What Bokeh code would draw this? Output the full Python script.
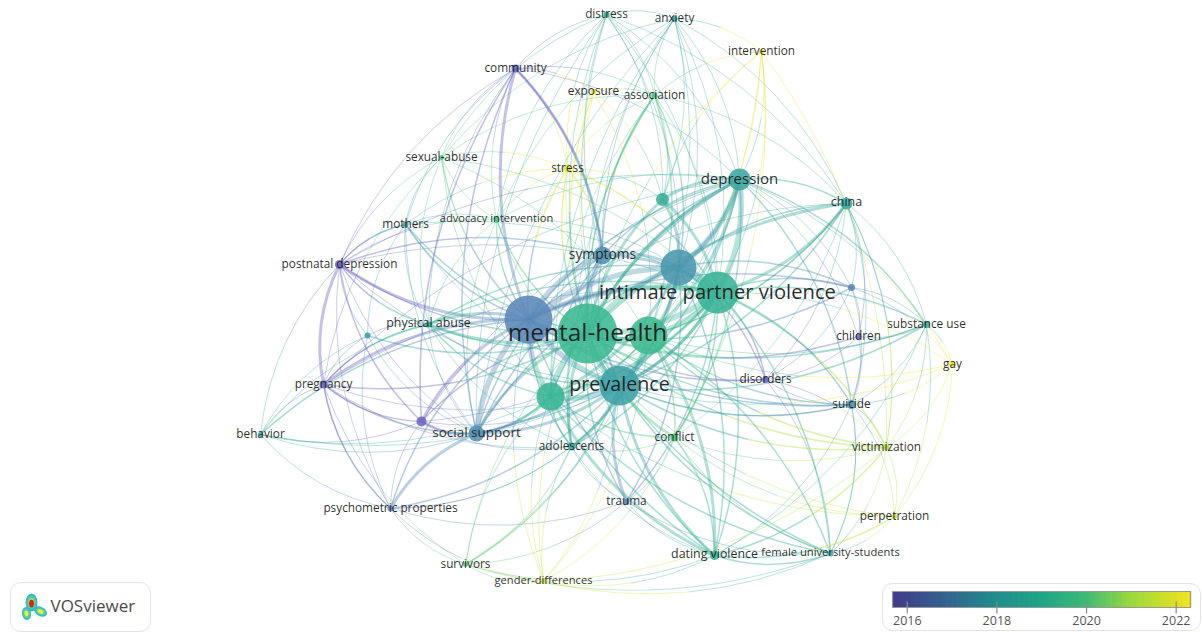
import numpy as np
from bokeh.plotting import figure
from bokeh.models import Range1d, ColumnDataSource
from bokeh.core.properties import value
from bokeh.embed import file_html
from bokeh.resources import INLINE

# ---- network data (map coordinates, occurrence size, average publication year)
keys = ["mh","wom","ipv","dv","hlth","prev","risk","sym","dep","h1","china","soc","dis","anx","intv","assoc",
        "comm","expo","sex","stress","adv","moth","pnd","h2","phys","h3","subst","child","gay","preg","disord",
        "sui","h4","beh","adol","conf","vict","psy","trauma","perp","dating","fem","surv","gend"]
labels = ["mental-health","","intimate partner violence","","","prevalence","","symptoms","depression","","china",
          "social support","distress","anxiety","intervention","association","community","exposure","sexual-abuse",
          "stress","advocacy intervention","mothers","postnatal depression","","physical abuse","","substance use",
          "children","gay","pregnancy","disorders","suicide","","behavior","adolescents","conflict","victimization",
          "psychometric properties","trauma","perpetration","dating violence","female university-students",
          "survivors","gender-differences"]
node_x = [587,528,717,678,648,619,550,602,739,662,846,476,606,674,761,654,515,593,441,567,496,405,339,851,428,367,
          926,858,952,323,765,851,421,260,571,674,886,390,626,894,714,830,465,543]
node_y = [333,319,292,267,335,385,396,255,179,199,203,433,14,18,51,95,68,91,157,168,219,224,264,287,324,335,324,336,
          364,384,379,404,421,434,446,437,447,508,501,516,555,553,564,581]
node_size = [30,24,21,18,19,20,14,9,11,6.5,6,8,3,3,2.5,3,4,2.5,2.5,3.5,3,3,4.5,3.5,3,3,3.5,3,3,4,3.5,4.5,5,2.5,
             4,4,3,3,3,2.5,4.5,3,2.5,2.5]
node_year = [2019.6,2017.5,2019.4,2018.1,2019.7,2018.6,2019.5,2017.9,2018.8,2019.2,2019.0,2017.8,2019.1,2018.8,
             2022.1,2020.1,2016.3,2022.1,2020.3,2021.9,2020.2,2018.5,2016.2,2017.5,2019.5,2018.5,2019.0,2016.5,
             2022.2,2016.3,2016.2,2018.0,2016.1,2019.0,2019.0,2020.4,2021.4,2017.3,2017.4,2021.6,2019.3,2019.1,
             2020.6,2021.8]

links_heavy = {"mh":"wom hlth prev risk ipv dv sym", "ipv":"dv hlth dep wom", "wom":"sym dv prev risk soc",
               "dep":"dv", "prev":"hlth risk"}
links_strong = {"mh":"dep soc phys adol conf h1 china", "wom":"ipv hlth pnd preg comm phys h4", "ipv":"prev sym risk china h1",
                "dv":"hlth prev sym risk h1 dep", "dep":"hlth h1 mh", "prev":"dating trauma adol soc ipv", "comm":"sym",
                "pnd":"preg", "soc":"h4 risk psy", "hlth":"dating", "risk":"dating"}
links_medium = {"mh":"pnd preg moth adv stress expo assoc dating sui disord vict fem subst trauma h2 h4 h3 child",
                "wom":"moth adv stress psy beh dating adol sex disord sui h2 dep",
                "ipv":"soc adol conf dating fem vict sui subst h2 disord phys stress trauma",
                "dv":"soc adol dating china assoc h2 disord phys trauma",
                "hlth":"soc adol conf fem vict china assoc phys risk sui",
                "prev":"phys china sui dep sym vict fem subst psy surv",
                "risk":"phys adol conf dep soc fem sym",
                "sym":"dep pnd comm soc adol assoc stress",
                "dep":"china soc conf sui subst",
                "dating":"fem vict conf perp", "pnd":"moth h4 phys", "preg":"h4 psy soc phys", "comm":"soc h4"}
links_weak = {"dis":"anx assoc sym h1 adv sex stress china soc comm mh ipv dv prev dep",
              "anx":"assoc intv china h1 adv sex hlth risk soc mh ipv dv sym dep",
              "intv":"dep ipv prev hlth conf vict assoc h1 mh", "assoc":"expo stress h1 sex china adol risk mh ipv",
              "comm":"sex moth adv pnd expo assoc dep phys stress", "expo":"stress h1 prev hlth",
              "sex":"adv moth stress phys risk pnd preg ipv hlth", "stress":"adv h1 moth prev",
              "adv":"moth phys soc dep dv prev pnd", "moth":"pnd phys soc h3 prev ipv",
              "pnd":"h3 soc psy prev ipv dep beh", "h2":"china subst child sui disord dep gay",
              "phys":"h3 soc beh preg adol", "h3":"beh soc preg psy",
              "subst":"china child gay sui vict perp dating hlth", "child":"china disord sui dep",
              "gay":"sui vict perp ipv hlth dep prev", "preg":"beh psy adol surv prev ipv dep",
              "disord":"sui vict fem china", "sui":"china vict perp fem dating prev",
              "h4":"psy beh adol prev ipv dep", "beh":"soc psy risk prev",
              "adol":"trauma surv gend dating conf psy", "conf":"vict perp fem trauma gend",
              "vict":"perp fem china", "psy":"surv adol trauma gend", "trauma":"dating fem surv",
              "perp":"fem risk prev", "fem":"surv sui gend", "surv":"gend risk hlth mh dating",
              "gend":"dating vict mh prev risk wom hlth", "china":"conf vict hlth wom"}

legend_years = [2016, 2018, 2020, 2022]
legend_labels = ["2016", "2018", "2020", "2022"]

# ---- style
BAR_L, BAR_R = 892.0, 1190.0
YEAR_L, YEAR_R = 2015.67, 2022.32
FONT = value("Open Sans")
tiers = [(links_weak, 0.9, 0.38), (links_medium, 1.5, 0.42), (links_strong, 3.0, 0.40), (links_heavy, 5.5, 0.36)]
label_px = {"mental-health": 24.4, "intimate partner violence": 20.2, "prevalence": 19.7, "depression": 15,
            "symptoms": 13.8, "social support": 13.5, "china": 12.5, "physical abuse": 12.4, "dating violence": 12.4,
            "female university-students": 11.2, "gender-differences": 11.1, "advocacy intervention": 11.1}
LABEL_LIFT = 2

def hex2rgb(h):
    return [int(h[i:i+2], 16) for i in (1, 3, 5)]

def ramp_color(y, stops):
    ys = [s[0] for s in stops]
    rgb = np.array([hex2rgb(s[1]) for s in stops], dtype=float)
    out = [int(round(np.interp(y, ys, rgb[:, k]))) for k in range(3)]
    return "#%02x%02x%02x" % tuple(out)

mark_stops = [(2016.0,"#6f62c4"),(2017.5,"#5b88b8"),(2018.5,"#3f9fa8"),(2019.5,"#38b594"),(2020.5,"#54c97e"),
              (2021.5,"#b8e040"),(2022.2,"#ece21e")]
bar_stops = [(2015.67,"#423a8b"),(2017.0,"#31688e"),(2018.0,"#1f8f8a"),(2019.0,"#20a486"),(2020.0,"#3dbb75"),
             (2021.0,"#9bd93c"),(2022.32,"#f2e41c")]
col = lambda y: ramp_color(y, mark_stops)

pos = {k: i for i, k in enumerate(keys)}
CX, CY = 620.0, 320.0
names = ["x0","y0","x1","y1","cx","cy","c","w","a"]
seg = {k: [] for k in names}
def add(*vals):
    for k, v in zip(names, vals):
        seg[k].append(v)
for table, w, a in tiers:
    for src, dests in table.items():
        for d in dests.split():
            i, j = pos[src], pos[d]
            xa, ya, xb, yb = node_x[i], node_y[i], node_x[j], node_y[j]
            mx, my = (xa+xb)/2, (ya+yb)/2
            dx, dy = xb-xa, yb-ya
            nx, ny = -dy*0.17, dx*0.17
            if (mx+nx-CX)**2 + (my+ny-CY)**2 < (mx-nx-CX)**2 + (my-ny-CY)**2:
                nx, ny = -nx, -ny
            qx, qy = mx+nx, my+ny
            # split at the middle so that each half takes its own node's colour
            ax, ay = (xa+qx)/2, (ya+qy)/2
            bx, by = (xb+qx)/2, (yb+qy)/2
            hx, hy = (ax+bx)/2, (ay+by)/2
            add(xa,ya,hx,hy,ax,ay,col(node_year[i]),w,a)
            add(hx,hy,xb,yb,bx,by,col(node_year[j]),w,a)

p = figure(width=1202, height=632, output_backend="svg", toolbar_location=None,
           x_range=Range1d(0, 1202), y_range=Range1d(632, 0), x_axis_type=None, y_axis_type=None,
           min_border=0, outline_line_color=None, background_fill_color="white")
p.grid.visible = False

p.quadratic(x0="x0", y0="y0", x1="x1", y1="y1", cx="cx", cy="cy", line_color="c", line_width="w", line_alpha="a",
            source=ColumnDataSource(seg))

order = sorted(range(len(keys)), key=lambda i: node_size[i])
p.circle(x=[node_x[i] for i in order], y=[node_y[i] for i in order], radius=[node_size[i] for i in order],
         fill_color=[col(node_year[i]) for i in order], fill_alpha=0.88, line_color=None)

lab = [i for i in range(len(keys)) if labels[i]]
p.text(x=[node_x[i] for i in lab], y=[node_y[i] - LABEL_LIFT for i in lab], text=[labels[i] for i in lab],
       text_font=FONT, text_font_size=[f"{label_px.get(labels[i], 11.8)}px" for i in lab],
       text_align="center", text_baseline="middle", text_color="#1c1c1c", text_alpha=0.95)

# ---- colour legend
p.quad(left=[882], right=[1200], top=[583], bottom=[630], fill_color="white", line_color="#e4e4e4", line_width=1, border_radius=10)
edges = np.linspace(YEAR_L, YEAR_R, 121)
to_px = lambda y: BAR_L + (y - YEAR_L) / (YEAR_R - YEAR_L) * (BAR_R - BAR_L)
p.quad(left=[to_px(e) for e in edges[:-1]], right=[to_px(e) + 0.8 for e in edges[1:]], top=591, bottom=607,
       fill_color=[ramp_color((a+b)/2, bar_stops) for a, b in zip(edges[:-1], edges[1:])], line_color=None)
p.quad(left=[BAR_L], right=[BAR_R], top=[591], bottom=[607], fill_color=None, line_color="#999999", line_width=1.2)
p.segment(x0=[to_px(y) for y in legend_years], x1=[to_px(y) for y in legend_years], y0=601, y1=613, line_color="#8a8a8a", line_width=1.2)
p.text(x=[to_px(y) for y in legend_years], y=620, text=legend_labels, text_font=FONT, text_font_size="12.5px",
       text_align="center", text_baseline="middle", text_color="#555555")

# ---- VOSviewer badge
p.quad(left=[10], right=[150], top=[582], bottom=[631], fill_color="white", line_color="#e4e4e4", line_width=1, border_radius=10)
for c, grow in [("#35b6d8", 1.0), ("#58d68d", 0.72), ("#ecec3c", 0.45)]:
    p.ellipse(x=[31, 26, 40], y=[602, 613, 611], width=[12*grow, 9*grow, 14*grow], height=[18*grow, 13*grow, 9*grow],
              fill_color=c, line_color=None, angle=[0.0, 0.2, -0.5])
p.ellipse(x=[31], y=[603], width=[5], height=[8], fill_color="#d8261c", line_color=None)
p.text(x=[50], y=[605], text=["VOSviewer"], text_font=FONT, text_font_size="17px", text_align="left",
       text_baseline="middle", text_color="#4a4a4a")

open("out.html", "w").write(file_html(p, INLINE))
